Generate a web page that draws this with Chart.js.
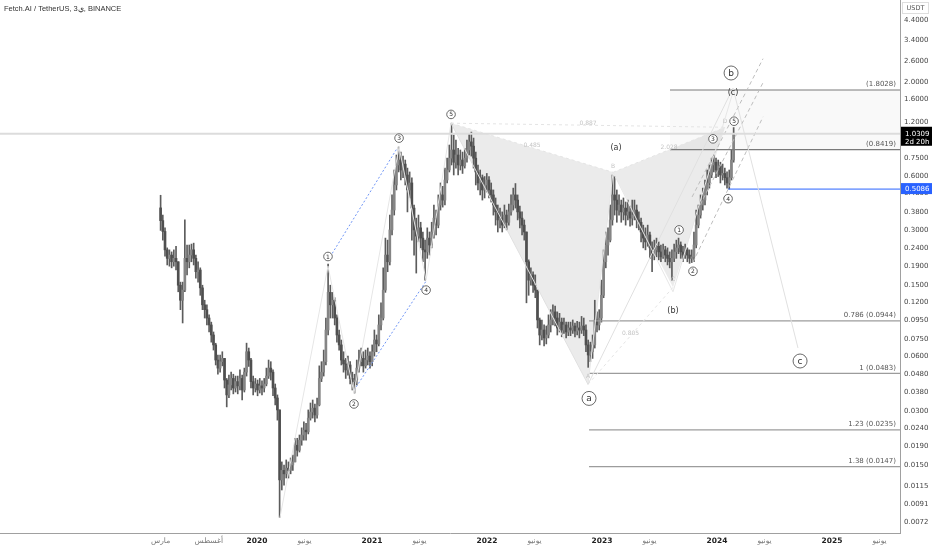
<!DOCTYPE html>
<html>
<head>
<meta charset="utf-8">
<script src="https://cdn.jsdelivr.net/npm/chart.js@4.4.1/dist/chart.umd.min.js"></script>
<style>
html, body { margin: 0; padding: 0; background: #fff; overflow: hidden; }
#wrap { width: 932px; height: 550px; position: relative; }
</style>
</head>
<body>
<div id="wrap"><canvas id="chart"></canvas></div>
<script>
// FET/USDT, one candle per week from 1 Mar 2019
const startYear = 2019;
const startDayOfYear = 59;
const stepDays = 7;
const firstOpen = 0.40;

const closes = [
  0.34, 0.296, 0.234, 0.21, 0.219, 0.201, 0.21, 0.201, 0.149, 0.123,
  0.14, 0.21, 0.201, 0.219, 0.234, 0.21, 0.177, 0.181, 0.144, 0.116,
  0.109, 0.098, 0.0897, 0.0789, 0.0695, 0.0573, 0.0517, 0.0561, 0.0585, 0.0444,
  0.0367, 0.0417, 0.0453, 0.0401, 0.0435, 0.0412, 0.0453, 0.0391, 0.0491, 0.0637,
  0.0573, 0.0435, 0.0401, 0.0422, 0.0391, 0.0412, 0.0401, 0.0422, 0.0467, 0.0517,
  0.0491, 0.0401, 0.0353, 0.0303, 0.0124,
  0.014, 0.0134, 0.0144, 0.014, 0.015,
  0.0156, 0.0193, 0.0181, 0.0206, 0.022, 0.0234, 0.0229, 0.0273, 0.0295, 0.031,
  0.0284, 0.0323, 0.0453, 0.0491, 0.0561, 0.0841, 0.136, 0.116, 0.123, 0.098,
  0.0789, 0.0695, 0.0573, 0.0545, 0.0505, 0.0538, 0.0453, 0.0435, 0.0444, 0.0517,
  0.0561, 0.0585, 0.0532, 0.0573, 0.0603, 0.0561, 0.0637, 0.074, 0.0704, 0.0897,
  0.098, 0.14, 0.219, 0.201, 0.302, 0.389, 0.536, 0.692, 0.737, 0.649,
  0.70, 0.609, 0.503, 0.55, 0.399, 0.302, 0.279, 0.31, 0.272, 0.234,
  0.228, 0.272, 0.249, 0.294, 0.351, 0.321, 0.415, 0.472, 0.442, 0.571,
  0.649, 0.755, 0.838, 0.717, 0.786, 0.692, 0.737, 0.684, 0.755, 0.838,
  0.929, 0.88, 0.755, 0.633, 0.55, 0.588, 0.503, 0.536, 0.571, 0.503,
  0.472, 0.415, 0.38, 0.343, 0.351, 0.321, 0.365, 0.333, 0.38, 0.415,
  0.472, 0.442, 0.38, 0.351, 0.321, 0.294, 0.201, 0.159, 0.17, 0.149,
  0.14, 0.0956, 0.0789, 0.0841, 0.076, 0.0789, 0.0897, 0.0956, 0.106, 0.098,
  0.0863, 0.093, 0.0841, 0.0897, 0.082, 0.0863, 0.0841, 0.0885, 0.083, 0.0863,
  0.0841, 0.0885, 0.0841, 0.0695, 0.0611, 0.0637, 0.0695, 0.0956, 0.0897, 0.098,
  0.131, 0.201, 0.249, 0.265, 0.343, 0.472, 0.442, 0.389, 0.415, 0.38,
  0.399, 0.365, 0.38, 0.351, 0.365, 0.389, 0.343, 0.333, 0.294, 0.272,
  0.259, 0.283, 0.24, 0.219, 0.234, 0.245, 0.228, 0.214, 0.234, 0.219,
  0.21, 0.201, 0.21, 0.228, 0.24, 0.249, 0.228, 0.219, 0.234, 0.219,
  0.21, 0.214, 0.249, 0.321, 0.365, 0.415, 0.442, 0.503, 0.55, 0.609,
  0.692, 0.717, 0.649, 0.684, 0.609, 0.621, 0.588, 0.55, 0.588, 0.737, 1.0309
];
const highs = [
  0.47, 0.365, 0.31, 0.24, 0.234, 0.228, 0.234, 0.245, 0.201, 0.155,
  0.155, 0.343, 0.249, 0.249, 0.252, 0.255, 0.219, 0.201, 0.186, 0.149,
  0.123, 0.116, 0.102, 0.093, 0.082, 0.071, 0.0611, 0.0611, 0.0637, 0.0585,
  0.0453, 0.0473, 0.0491, 0.0478, 0.0467, 0.0467, 0.0505, 0.0473, 0.0517, 0.0711,
  0.0668, 0.0585, 0.0467, 0.0453, 0.0444, 0.0453, 0.0439, 0.0453, 0.0517, 0.0573,
  0.0561, 0.0505, 0.0422, 0.0367, 0.0303,
  0.0156, 0.015, 0.016, 0.0156, 0.0164,
  0.017, 0.0211, 0.0211, 0.022, 0.0241, 0.026, 0.0255, 0.0303, 0.0331, 0.0344,
  0.0327, 0.0353, 0.0532, 0.0561, 0.0651, 0.098, 0.195, 0.149, 0.136, 0.127,
  0.102, 0.0841, 0.074, 0.0637, 0.0585, 0.0603, 0.0561, 0.0491, 0.0478, 0.0573,
  0.0651, 0.0668, 0.0637, 0.0651, 0.0668, 0.0637, 0.0695, 0.0841, 0.0789, 0.102,
  0.119, 0.186, 0.272, 0.265, 0.365, 0.472, 0.649, 0.786, 0.87, 0.816,
  0.775, 0.737, 0.665, 0.633, 0.588, 0.415, 0.351, 0.365, 0.333, 0.294,
  0.265, 0.31, 0.294, 0.333, 0.415, 0.389, 0.472, 0.55, 0.527, 0.665,
  0.755, 0.893, 1.18, 1.015, 0.952, 0.855, 0.838, 0.816, 0.855, 0.952,
  1.03, 1.053, 0.976, 0.816, 0.692, 0.649, 0.609, 0.597, 0.621, 0.597,
  0.55, 0.503, 0.454, 0.415, 0.399, 0.38, 0.415, 0.389, 0.42, 0.472,
  0.515, 0.546, 0.472, 0.41, 0.38, 0.343, 0.294, 0.206, 0.186, 0.177,
  0.17, 0.14, 0.098, 0.0956, 0.0897, 0.0885, 0.102, 0.109, 0.116, 0.114,
  0.106, 0.104, 0.098, 0.098, 0.093, 0.093, 0.093, 0.0956, 0.092, 0.094,
  0.093, 0.10, 0.098, 0.0897, 0.074, 0.072, 0.0789, 0.123, 0.106, 0.109,
  0.159, 0.234, 0.294, 0.31, 0.415, 0.609, 0.597, 0.503, 0.472, 0.442,
  0.454, 0.431, 0.442, 0.41, 0.442, 0.442, 0.415, 0.38, 0.351, 0.321,
  0.31, 0.321, 0.294, 0.259, 0.265, 0.272, 0.259, 0.249, 0.252, 0.245,
  0.24, 0.228, 0.234, 0.252, 0.265, 0.272, 0.259, 0.245, 0.252, 0.24,
  0.234, 0.234, 0.294, 0.389, 0.415, 0.472, 0.515, 0.571, 0.649, 0.692,
  0.755, 0.786, 0.755, 0.737, 0.717, 0.70, 0.665, 0.633, 0.649, 0.838, 1.116
];
const lows = [
  0.30, 0.265, 0.216, 0.193, 0.19, 0.186, 0.19, 0.181, 0.137, 0.109,
  0.092, 0.137, 0.17, 0.186, 0.201, 0.193, 0.163, 0.155, 0.131, 0.109,
  0.098, 0.0897, 0.082, 0.072, 0.0651, 0.0538, 0.0478, 0.0491, 0.0532, 0.0401,
  0.0315, 0.0354, 0.0391, 0.0372, 0.0381, 0.0372, 0.0391, 0.0344, 0.0381, 0.0467,
  0.0528, 0.0401, 0.0367, 0.0381, 0.0363, 0.0376, 0.0367, 0.0381, 0.0412, 0.0453,
  0.0444, 0.0363, 0.0323, 0.0266, 0.0077,
  0.0109, 0.0116, 0.0127, 0.0127, 0.0134,
  0.014, 0.0156, 0.0168, 0.0177, 0.0193, 0.0206, 0.0206, 0.0223, 0.0266, 0.0273,
  0.026, 0.0273, 0.0319, 0.0435, 0.0467, 0.0538, 0.0789, 0.098, 0.098, 0.0897,
  0.072, 0.0651, 0.0538, 0.0491, 0.0453, 0.0473, 0.0422, 0.0391, 0.0376, 0.0417,
  0.0491, 0.0532, 0.0491, 0.0517, 0.0538, 0.0517, 0.0532, 0.0603, 0.0637, 0.0686,
  0.0841, 0.0956, 0.136, 0.177, 0.193, 0.283, 0.365, 0.503, 0.633, 0.571,
  0.588, 0.536, 0.38, 0.454, 0.265, 0.219, 0.174, 0.259, 0.24, 0.201,
  0.159, 0.21, 0.219, 0.24, 0.272, 0.283, 0.31, 0.389, 0.404, 0.415,
  0.55, 0.633, 0.692, 0.609, 0.665, 0.609, 0.649, 0.621, 0.665, 0.717,
  0.786, 0.775, 0.665, 0.536, 0.503, 0.472, 0.442, 0.454, 0.49, 0.454,
  0.431, 0.365, 0.321, 0.294, 0.31, 0.294, 0.31, 0.302, 0.321, 0.365,
  0.389, 0.399, 0.343, 0.31, 0.283, 0.265, 0.119, 0.131, 0.149, 0.136,
  0.127, 0.0863, 0.0695, 0.074, 0.0686, 0.0704, 0.076, 0.082, 0.0897, 0.0885,
  0.0789, 0.082, 0.0771, 0.0805, 0.076, 0.0782, 0.0782, 0.0805, 0.0771, 0.0789,
  0.076, 0.0805, 0.0782, 0.0637, 0.0522, 0.0561, 0.0585, 0.0668, 0.082, 0.0841,
  0.093, 0.127, 0.186, 0.219, 0.259, 0.321, 0.365, 0.333, 0.365, 0.333,
  0.343, 0.321, 0.343, 0.317, 0.321, 0.343, 0.31, 0.302, 0.259, 0.24,
  0.234, 0.245, 0.21, 0.177, 0.206, 0.214, 0.206, 0.201, 0.21, 0.201,
  0.193, 0.186, 0.159, 0.201, 0.21, 0.223, 0.21, 0.201, 0.21, 0.201,
  0.197, 0.199, 0.201, 0.24, 0.31, 0.351, 0.389, 0.415, 0.472, 0.515,
  0.588, 0.633, 0.588, 0.597, 0.55, 0.571, 0.536, 0.515, 0.509, 0.571, 0.717
];

const yTicks = [0.0072, 0.0091, 0.0115, 0.0150, 0.0190, 0.0240, 0.0300, 0.0380, 0.0480,
  0.0600, 0.0750, 0.0950, 0.1200, 0.1500, 0.1900, 0.2400, 0.3000, 0.3800, 0.4800,
  0.6000, 0.7500, 0.9500, 1.2000, 1.6000, 2.0000, 2.6000, 3.4000, 4.4000];
const xTickMonths = [[2019, 3], [2019, 8], [2020, 1], [2020, 6], [2021, 1], [2021, 6], [2022, 1],
  [2022, 6], [2023, 1], [2023, 6], [2024, 1], [2024, 6], [2025, 1], [2025, 6]];
const xTickLabels = ['مارس', 'أغسطس', '2020', 'يونيو', '2021', 'يونيو', '2022', 'يونيو',
  '2023', 'يونيو', '2024', 'يونيو', '2025', 'يونيو'];

const lastPrice = 1.0309;
const alertPrice = 0.5086;

// drawings (decimal year, price)
const impulse2020 = [[2020.2, 0.0077], [2020.617, 0.19], [2020.843, 0.0376], [2021.235, 0.87], [2021.47, 0.159], [2021.687, 1.18]];
const bigAbc = [[2021.687, 1.18], [2022.878, 0.042], [2024.139, 1.85], [2024.704, 0.0668]];
const smallAbc = [[2022.878, 0.042], [2023.096, 0.63], [2023.617, 0.137], [2024.139, 1.76]];
const channel13 = [[2020.617, 0.205], [2021.22, 0.86]];
const channel24 = [[2020.843, 0.039], [2021.47, 0.157]];
const channel2024 = [
  [[2023.783, 0.46], [2024.4, 2.69]],
  [[2023.852, 0.415], [2024.4, 1.98]],
  [[2023.791, 0.2], [2024.4, 1.28]]
];
const harmonic = { X: [2021.687, 1.18], A: [2022.878, 0.042], B: [2023.096, 0.63], C: [2023.617, 0.145], D: [2024.07, 1.12] };
const harmonicRatios = [['X', 'B', '0.485'], ['A', 'C', '0.805'], ['B', 'D', '2.028'], ['X', 'D', '0.887']];
const fibUpper = [[1.8028, '(1.8028)'], [0.8419, '(0.8419)']];
const fibUpperStart = 2023.591;
const fibLower = [[0.0944, '0.786 (0.0944)'], [0.0483, '1 (0.0483)'], [0.0235, '1.23 (0.0235)'], [0.0147, '1.38 (0.0147)']];
const fibLowerStart = 2022.887;
const alertStart = 2024.096;

const waveNumbers = [
  [2020.617, 0.215, '1'], [2020.843, 0.0327, '2'], [2021.235, 0.975, '3'], [2021.47, 0.14, '4'], [2021.687, 1.32, '5'],
  [2023.67, 0.302, '1'], [2023.791, 0.178, '2'], [2023.965, 0.966, '3'], [2024.096, 0.45, '4'], [2024.148, 1.21, '5']
];
const waveLetters = [[2022.887, 0.0351, 'a'], [2024.122, 2.24, 'b'], [2024.722, 0.0566, 'c']];
const waveParens = [[2023.122, 0.862, '(a)'], [2023.617, 0.107, '(b)'], [2024.139, 1.73, '(c)']];

const xMin = 2017.765, xMax = 2025.591;
const yMin = 0.006293, yMax = 5.69;

const dates = closes.map((_, i) => startYear + (startDayOfYear + i * stepDays) / 365.25);
const opens = closes.map((c, i) => i === 0 ? firstOpen : closes[i - 1]);
const monthStart = [0, 31, 59, 90, 120, 151, 181, 212, 243, 273, 304, 334];
const xTickValues = xTickMonths.map(([yr, m]) => yr + monthStart[m - 1] / 365.25);

function seg(points, color, width, dash) {
  return {
    type: 'line',
    data: points.map(([x, y]) => ({ x, y })),
    borderColor: color,
    borderWidth: width,
    borderDash: dash || [],
    pointRadius: 0,
    fill: false,
    tension: 0,
    order: 1
  };
}

const lineSets = [
  seg([[xMin, lastPrice], [xMax, lastPrice]], '#dcdcdc', 2),
  seg(impulse2020, '#e6e6e6', 1),
  seg(bigAbc, '#e0e0e0', 1),
  seg(smallAbc, '#e6e6e6', 1),
  seg(channel13, '#6f95f5', 1, [2, 2]),
  seg(channel24, '#6f95f5', 1, [2, 2]),
  ...channel2024.map(l => seg(l, '#bdbdbd', 1, [4, 3])),
  ...harmonicRatios.map(([a, b]) => seg([harmonic[a], harmonic[b]], '#e4e4e4', 1, [3, 3])),
  ...fibUpper.map(([p]) => seg([[fibUpperStart, p], [xMax, p]], '#7a7a7a', 1.2)),
  ...fibLower.map(([p]) => seg([[fibLowerStart, p], [xMax, p]], '#9c9c9c', 1.2)),
  seg([[alertStart, alertPrice], [xMax, alertPrice]], '#2962ff', 1)
];

function circleLabel(ctx, x, y, r, text, size) {
  ctx.beginPath();
  ctx.arc(x, y, r, 0, Math.PI * 2);
  ctx.fillStyle = '#fff';
  ctx.fill();
  ctx.lineWidth = 0.8;
  ctx.strokeStyle = '#444';
  ctx.stroke();
  ctx.fillStyle = '#333';
  ctx.font = size + 'px "DejaVu Sans"';
  ctx.textAlign = 'center';
  ctx.textBaseline = 'middle';
  ctx.fillText(text, x, y + 0.5);
}

const drawings = {
  id: 'drawings',
  beforeDatasetsDraw(chart) {
    const { ctx, chartArea, scales: { x, y } } = chart;
    const pt = ([t, p]) => [x.getPixelForValue(t), y.getPixelForValue(p)];
    ctx.save();
    ctx.beginPath();
    ctx.rect(chartArea.left, chartArea.top, chartArea.width, chartArea.height);
    ctx.clip();
    // fib extension zone
    const fx = x.getPixelForValue(fibUpperStart);
    const fy1 = y.getPixelForValue(fibUpper[0][0]), fy2 = y.getPixelForValue(fibUpper[1][0]);
    ctx.fillStyle = 'rgba(0,0,0,0.025)';
    ctx.fillRect(fx, fy1, chartArea.right - fx, fy2 - fy1);
    // harmonic pattern triangles
    ctx.fillStyle = 'rgba(110,110,110,0.14)';
    for (const tri of [['X', 'A', 'B'], ['B', 'C', 'D']]) {
      ctx.beginPath();
      tri.forEach((k, i) => {
        const [px, py] = pt(harmonic[k]);
        i ? ctx.lineTo(px, py) : ctx.moveTo(px, py);
      });
      ctx.closePath();
      ctx.fill();
    }
    ctx.restore();
  },
  afterDraw(chart) {
    const { ctx, chartArea, scales: { x, y } } = chart;
    const pt = ([t, p]) => [x.getPixelForValue(t), y.getPixelForValue(p)];
    ctx.save();

    // faint harmonic ratios and point letters
    ctx.font = '6px "DejaVu Sans"';
    ctx.fillStyle = '#c4c4c4';
    ctx.textAlign = 'center';
    ctx.textBaseline = 'middle';
    for (const [a, b, txt] of harmonicRatios) {
      const [x1, y1] = pt(harmonic[a]), [x2, y2] = pt(harmonic[b]);
      ctx.fillText(txt, (x1 + x2) / 2, (y1 + y2) / 2 - 2);
    }
    for (const k of ['A', 'B', 'C', 'D']) {
      const [px, py] = pt(harmonic[k]);
      const below = k === 'A' || k === 'C';
      ctx.fillText(k, px, py + (below ? -8 : -6));
    }

    // fib labels
    ctx.font = '7px "DejaVu Sans"';
    ctx.fillStyle = '#555';
    ctx.textAlign = 'right';
    ctx.textBaseline = 'bottom';
    for (const [p, txt] of fibUpper.concat(fibLower)) {
      ctx.fillText(txt, chartArea.right - 4, y.getPixelForValue(p) - 2);
    }

    // wave labels
    for (const [t, p, txt] of waveNumbers) {
      const [px, py] = pt([t, p]);
      circleLabel(ctx, px, py, 4.3, txt, 6);
    }
    for (const [t, p, txt] of waveLetters) {
      const [px, py] = pt([t, p]);
      circleLabel(ctx, px, py, 7, txt, 9);
    }
    ctx.font = '8px "DejaVu Sans"';
    ctx.fillStyle = '#333';
    ctx.textAlign = 'center';
    ctx.textBaseline = 'middle';
    for (const [t, p, txt] of waveParens) {
      const [px, py] = pt([t, p]);
      ctx.fillText(txt, px, py);
    }

    // title
    ctx.font = '7.5px "Liberation Sans"';
    ctx.fillStyle = '#333';
    ctx.textAlign = 'left';
    ctx.fillText('Fetch.AI / TetherUS, 3ي, BINANCE', 4, 9);

    // axis currency
    const ax = chartArea.right;
    ctx.strokeStyle = '#dedede';
    ctx.lineWidth = 1;
    ctx.strokeRect(ax + 2.5, 2.5, 26, 11);
    ctx.font = '6.5px "DejaVu Sans"';
    ctx.fillStyle = '#555';
    ctx.textAlign = 'center';
    ctx.fillText('USDT', ax + 15.5, 8.5);

    // last price tag
    const ly = y.getPixelForValue(lastPrice);
    ctx.fillStyle = '#000';
    ctx.fillRect(ax + 1, ly - 7, 31, 19);
    ctx.fillStyle = '#fff';
    ctx.font = '7px "DejaVu Sans"';
    ctx.textAlign = 'left';
    ctx.fillText(lastPrice.toFixed(4), ax + 5, ly);
    ctx.fillText('2d 20h', ax + 5, ly + 8);

    // alert tag
    const ay = y.getPixelForValue(alertPrice);
    ctx.fillStyle = '#2962ff';
    ctx.fillRect(ax + 1, ay - 6, 31, 11);
    ctx.fillStyle = '#fff';
    ctx.fillText(alertPrice.toFixed(4), ax + 5, ay);
    ctx.restore();
  }
};

new Chart(document.getElementById('chart'), {
  type: 'bar',
  data: {
    datasets: [
      ...lineSets,
      {
        type: 'bar',
        data: dates.map((t, i) => ({ x: t, y: [lows[i], highs[i]] })),
        backgroundColor: '#5c5c5c',
        barThickness: 1,
        grouped: false,
        order: 3
      },
      {
        type: 'bar',
        data: dates.map((t, i) => ({ x: t, y: [Math.min(opens[i], closes[i]), Math.max(opens[i], closes[i])] })),
        backgroundColor: closes.map((c, i) => c >= opens[i] ? '#858585' : '#4f4f4f'),
        barThickness: 2,
        minBarLength: 1,
        grouped: false,
        order: 2
      }
    ]
  },
  options: {
    responsive: true,
    maintainAspectRatio: false,
    devicePixelRatio: 1,
    animation: false,
    events: [],
    layout: { padding: 0 },
    plugins: { legend: { display: false }, tooltip: { enabled: false } },
    scales: {
      x: {
        type: 'linear',
        min: xMin,
        max: xMax,
        offset: false,
        grid: { display: false, drawTicks: false },
        border: { color: '#a0a0a0' },
        afterBuildTicks: s => { s.ticks = xTickValues.map(v => ({ value: v })); },
        afterFit: s => { s.height = 17; s.paddingLeft = 0; s.paddingRight = 0; },
        ticks: {
          autoSkip: false,
          maxRotation: 0,
          padding: 4,
          color: ctx => /^\d/.test(xTickLabels[ctx.index]) ? '#222' : '#777',
          font: ctx => ({ family: 'DejaVu Sans', size: 7.5, weight: /^\d/.test(xTickLabels[ctx.index]) ? 'bold' : 'normal' }),
          callback: (v, i) => xTickLabels[i]
        }
      },
      y: {
        type: 'logarithmic',
        position: 'right',
        min: yMin,
        max: yMax,
        grid: { display: false, drawTicks: false },
        border: { color: '#a0a0a0' },
        afterBuildTicks: s => { s.ticks = yTicks.map(v => ({ value: v })); },
        afterFit: s => { s.width = 32; s.paddingTop = 0; s.paddingBottom = 0; },
        ticks: {
          autoSkip: false,
          padding: 4,
          color: '#444',
          font: { family: 'DejaVu Sans', size: 7 },
          callback: v => Number(v).toFixed(4)
        }
      }
    }
  },
  plugins: [drawings]
});
</script>
</body>
</html>
